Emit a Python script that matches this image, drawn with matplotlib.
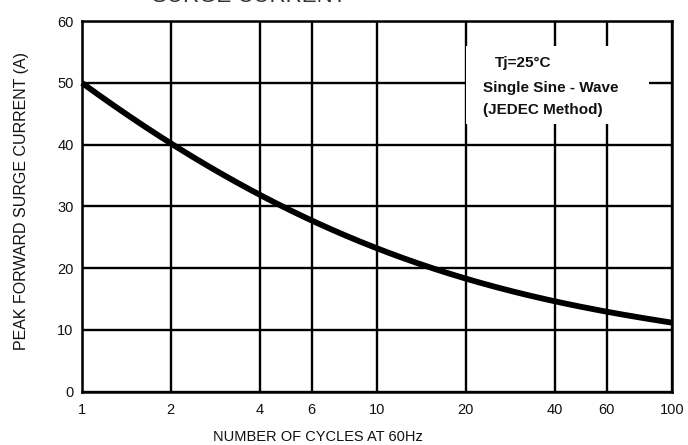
import numpy as np
import matplotlib
matplotlib.use("Agg")
import matplotlib.pyplot as plt
from matplotlib.patches import Rectangle

plt.rcParams["font.family"] = ["Liberation Sans", "DejaVu Sans"]

# values
cycles = [1, 2, 3, 4, 6, 10, 15, 20, 30, 40, 60, 80, 100]
current = [50, 40, 35.4, 31.8, 27.8, 22.9, 20.2, 18.5, 16.0, 14.5, 12.9, 12.0, 11.1]

x_ticks = [1, 2, 4, 6, 10, 20, 40, 60, 100]
y_ticks = [0, 10, 20, 30, 40, 50, 60]

note_lines = ["Tj=25\u00b0C", "Single Sine - Wave", "(JEDEC Method)"]

fig = plt.figure(figsize=(6.88, 4.45), dpi=100)
ax = fig.add_axes([0.1192, 0.1202, 0.8575, 0.8326])

# smooth the read points in log space for drawing
lx = np.log10(cycles)
xs = np.linspace(lx[0], lx[-1], 300)
coef = np.polyfit(lx, current, 4)
ax.plot(10 ** xs, np.polyval(coef, xs), color="black", lw=4.2,
        solid_capstyle="butt", zorder=3, clip_on=False)

ax.set_xscale("log")
ax.set_xlim(1, 100)
ax.set_ylim(0, 60)
ax.set_xticks(x_ticks)
ax.set_xticklabels([str(t) for t in x_ticks])
ax.xaxis.set_minor_locator(matplotlib.ticker.NullLocator())
ax.set_yticks(y_ticks)
ax.tick_params(length=0, labelsize=10.5, labelcolor="#111111")
ax.tick_params(axis="x", pad=8)
ax.tick_params(axis="y", pad=6)

ax.set_axisbelow(True)
ax.grid(True, color="black", lw=1.7)
for s in ax.spines.values():
    s.set_linewidth(1.8)

# white box behind the note
ax.add_patch(Rectangle((0.651, 0.723), 0.31, 0.21, transform=ax.transAxes,
                       facecolor="white", edgecolor="none", zorder=2))
fig.text(495 / 688, 1 - 63 / 445, note_lines[0], fontsize=11,
         fontweight="bold", va="center", color="#111111")
fig.text(483 / 688, 1 - 88 / 445, note_lines[1], fontsize=11,
         fontweight="bold", va="center", color="#111111")
fig.text(483 / 688, 1 - 110 / 445, note_lines[2], fontsize=11,
         fontweight="bold", va="center", color="#111111")

fig.text(22 / 688, 1 - 201 / 445, "PEAK FORWARD SURGE CURRENT (A)",
         rotation=90, fontsize=11.5, ha="center", va="center", color="#111111")
fig.text(318 / 688, 1 - 437 / 445, "NUMBER OF CYCLES AT 60Hz",
         fontsize=10.5, ha="center", va="center", color="#111111")

# chart title, cut off at the top edge in the reference
fig.text(152 / 688, 1 - 1.5 / 445, "SURGE CURRENT", fontsize=16,
         ha="left", va="baseline", color="#333333")

fig.savefig("out.png", dpi=100)
